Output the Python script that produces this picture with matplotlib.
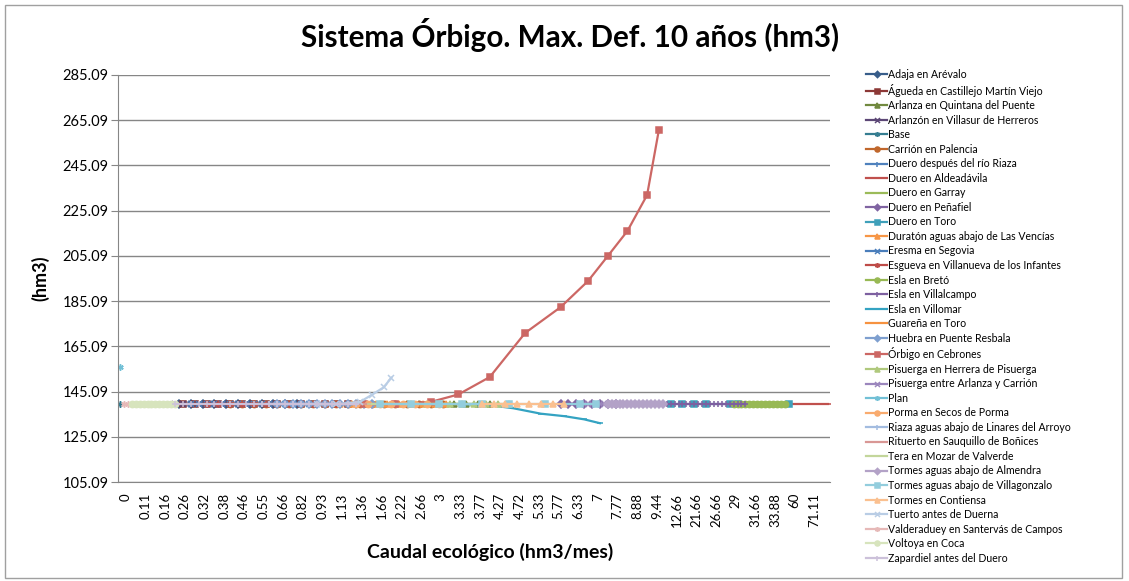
import matplotlib
matplotlib.use('Agg')
import matplotlib.pyplot as plt
from matplotlib.patches import Rectangle

plt.rcParams['font.family'] = ['Lato', 'DejaVu Sans']

title = 'Sistema Órbigo. Max. Def. 10 años (hm3)'
x_title = 'Caudal ecológico (hm3/mes)'
y_title = '(hm3)'

# categorical x axis: every 5th category gets a label
n_categories = 181
label_step = 5
caudal_labels = ['0', '0.11', '0.16', '0.26', '0.32', '0.38', '0.46', '0.55', '0.66',
                 '0.82', '0.93', '1.13', '1.36', '1.66', '2.22', '2.66', '3', '3.33',
                 '3.77', '4.27', '4.72', '5.33', '5.77', '6.33', '7', '7.77', '8.88',
                 '9.44', '12.66', '21.66', '26.66', '29', '31.66', '33.88', '60', '71.11']

y_ticks = [105.09, 125.09, 145.09, 165.09, 185.09, 205.09, 225.09, 245.09, 265.09, 285.09]

series_names = [
    'Adaja en Arévalo', 'Águeda en Castillejo Martín Viejo', 'Arlanza en Quintana del Puente',
    'Arlanzón en Villasur de Herreros', 'Base', 'Carrión en Palencia',
    'Duero después del río Riaza', 'Duero en Aldeadávila', 'Duero en Garray',
    'Duero en Peñafiel', 'Duero en Toro', 'Duratón aguas abajo de Las Vencías',
    'Eresma en Segovia', 'Esgueva en Villanueva de los Infantes', 'Esla en Bretó',
    'Esla en Villalcampo', 'Esla en Villomar', 'Guareña en Toro',
    'Huebra en Puente Resbala', 'Órbigo en Cebrones', 'Pisuerga en Herrera de Pisuerga',
    'Pisuerga entre Arlanza y Carrión', 'Plan', 'Porma en Secos de Porma',
    'Riaza aguas abajo de Linares del Arroyo', 'Rituerto en Sauquillo de Boñices',
    'Tera en Mozar de Valverde', 'Tormes aguas abajo de Almendra',
    'Tormes aguas abajo de Villagonzalo', 'Tormes en Contiensa', 'Tuerto antes de Duerna',
    'Valderaduey en Santervás de Campos', 'Voltoya en Coca', 'Zapardiel antes del Duero',
]

series_colors = [
    '#385D8A', '#8C3836', '#71893F', '#5C4776', '#357D91', '#C0672C',
    '#4F81BD', '#C0504D', '#9BBB59', '#8064A2', '#3FA0BA', '#F79646',
    '#4A7EBB', '#BE4B48', '#98B954', '#7D60A0', '#34A3C2', '#F69240',
    '#7E9FCF', '#CC6764', '#B0C97D', '#9B86BD', '#72C0D6', '#F9AB6E',
    '#A3BCE0', '#D99795', '#C3D69B', '#B3A2C7', '#93CDDD', '#FAC090',
    '#B9CDE5', '#E6B9B8', '#D7E4BD', '#CCC1DA',
]

star = (6, 2, 0)
marker_cycle = ['D', 's', '^', 'x', star, 'o', '+', '_', '_']

# level that nearly every river sits on (hm3)
flat_level = 139.5

# category range (start, stop, step) where a series stays on the flat level
flat_spans = {
    'Adaja en Arévalo': (15, 48, 3),
    'Águeda en Castillejo Martín Viejo': (16, 62, 3),
    'Arlanza en Quintana del Puente': (70, 96, 3),
    'Arlanzón en Villasur de Herreros': (14, 40, 2),
    'Carrión en Palencia': (28, 84, 3),
    'Duero después del río Riaza': (32, 60, 2),
    'Duero en Aldeadávila': (168, 181, 1),
    'Duero en Garray': (60, 90, 2),
    'Duero en Peñafiel': (112, 128, 2),
    'Duratón aguas abajo de Las Vencías': (56, 84, 3),
    'Eresma en Segovia': (18, 52, 2),
    'Esgueva en Villanueva de los Infantes': (22, 58, 3),
    'Esla en Bretó': (156, 170, 1),
    'Esla en Villalcampo': (136, 160, 1),
    'Guareña en Toro': (62, 82, 2),
    'Huebra en Puente Resbala': (40, 66, 2),
    'Pisuerga en Herrera de Pisuerga': (78, 102, 3),
    'Pisuerga entre Arlanza y Carrión': (118, 136, 2),
    'Porma en Secos de Porma': (60, 82, 3),
    'Riaza aguas abajo de Linares del Arroyo': (36, 62, 2),
    'Rituerto en Sauquillo de Boñices': (50, 76, 2),
    'Tera en Mozar de Valverde': (64, 92, 2),
    'Tormes aguas abajo de Almendra': (124, 139, 1),
    'Tormes en Contiensa': (92, 114, 3),
    'Valderaduey en Santervás de Campos': (1, 5, 1),
    'Voltoya en Coca': (3, 15, 1),
    'Zapardiel antes del Duero': (14, 62, 2),
}

# series read point by point (category index, value)
base_cat = [0]
base_val = [139.5]
plan_cat = [0]
plan_val = [156.1]
orbigo_cat = [62, 70, 79, 86, 94, 103, 112, 119, 124, 129, 134, 137]
orbigo_val = [139.5, 139.5, 140.5, 143.8, 151.5, 171.0, 182.4, 194.0, 205.0, 216.1, 232.0, 260.8]
tuerto_cat = [50, 55, 61, 64, 67, 69]
tuerto_val = [139.5, 139.5, 140.5, 143.6, 146.9, 151.2]
villomar_cat = [86, 93, 100, 107, 113, 118, 122]
villomar_val = [139.5, 139.3, 137.7, 135.3, 134.2, 132.8, 131.1]
toro_cat = [140, 143, 146, 149, 155, 157, 170]
toro_val = [139.5, 139.5, 139.5, 139.5, 139.5, 139.5, 139.5]
villagonzalo_cat = [66, 74, 81, 87, 92, 99, 108, 117, 121]
villagonzalo_val = [139.5, 139.5, 139.5, 139.5, 139.5, 139.5, 139.5, 139.5, 139.5]

point_series = {
    'Base': (base_cat, base_val),
    'Plan': (plan_cat, plan_val),
    'Órbigo en Cebrones': (orbigo_cat, orbigo_val),
    'Tuerto antes de Duerna': (tuerto_cat, tuerto_val),
    'Esla en Villomar': (villomar_cat, villomar_val),
    'Duero en Toro': (toro_cat, toro_val),
    'Tormes aguas abajo de Villagonzalo': (villagonzalo_cat, villagonzalo_val),
}


def series_data(name):
    """Returns category positions and values of one series."""
    if name in point_series:
        return point_series[name]
    start, stop, step = flat_spans[name]
    cats = list(range(start, stop, step))
    return cats, [flat_level] * len(cats)


def plot_chart():
    fig = plt.figure(figsize=(11.29, 5.81), dpi=100)
    W, H = 1129, 581
    ax = fig.add_axes([118 / W, 1 - 482 / H, (830 - 118) / W, (482 - 75) / H])

    # chart border like the spreadsheet one
    fig.patches.append(Rectangle((5 / W, 3 / H), 1117 / W, 573 / H, transform=fig.transFigure,
                                 fill=False, edgecolor='#A0A0A0', linewidth=1))

    for i, name in enumerate(series_names):
        cats, vals = series_data(name)
        marker = marker_cycle[i % len(marker_cycle)]
        ms = 4.5
        if marker == 'D':
            ms = 4
        if marker == '_' and i % 9 == 8:
            ms = 7
        ax.plot(cats, vals, color=series_colors[i], marker=marker, markersize=ms,
                markeredgewidth=1.1, linewidth=1.6, label=name, zorder=2 + i * 0.01)

    ax.set_xlim(-0.5, n_categories - 0.5)
    ax.set_ylim(y_ticks[0], y_ticks[-1])
    ax.set_yticks(y_ticks)
    ax.set_yticklabels(['%.2f' % v for v in y_ticks], fontsize=10.5)
    ax.set_xticks(range(0, n_categories, label_step)[:len(caudal_labels)])
    # left-aligned rotated labels sit a little right of the category, as in the spreadsheet
    ax.set_xticklabels(caudal_labels, rotation=90, fontsize=9.5, ha='left')
    ax.tick_params(axis='x', length=0, pad=8)
    ax.tick_params(axis='y', length=5, color='#868686', pad=2)
    ax.grid(axis='y', color='#868686', linewidth=1)
    ax.set_axisbelow(True)
    for side in ['top', 'right']:
        ax.spines[side].set_visible(False)
    for side in ['left', 'bottom']:
        ax.spines[side].set_color('#868686')

    fig.text(570 / W, 1 - 35 / H, title, ha='center', va='center', fontsize=21.3, fontweight='bold')
    fig.text(490 / W, 1 - 552 / H, x_title, ha='center', va='center', fontsize=14, fontweight='bold')
    fig.text(40 / W, 1 - 278 / H, y_title, ha='center', va='center', fontsize=13,
             fontweight='bold', rotation=90)

    fig.legend(*ax.get_legend_handles_labels(), loc='upper left',
               bbox_to_anchor=(866 / W, 1 - 69 / H), frameon=False, fontsize=7.6,
               handlelength=2.0, handletextpad=0.1, labelspacing=0.335, borderpad=0,
               borderaxespad=0, markerscale=0.8)

    fig.savefig('out.png', dpi=100)


def main():
    plot_chart()


if __name__ == '__main__':
    main()
